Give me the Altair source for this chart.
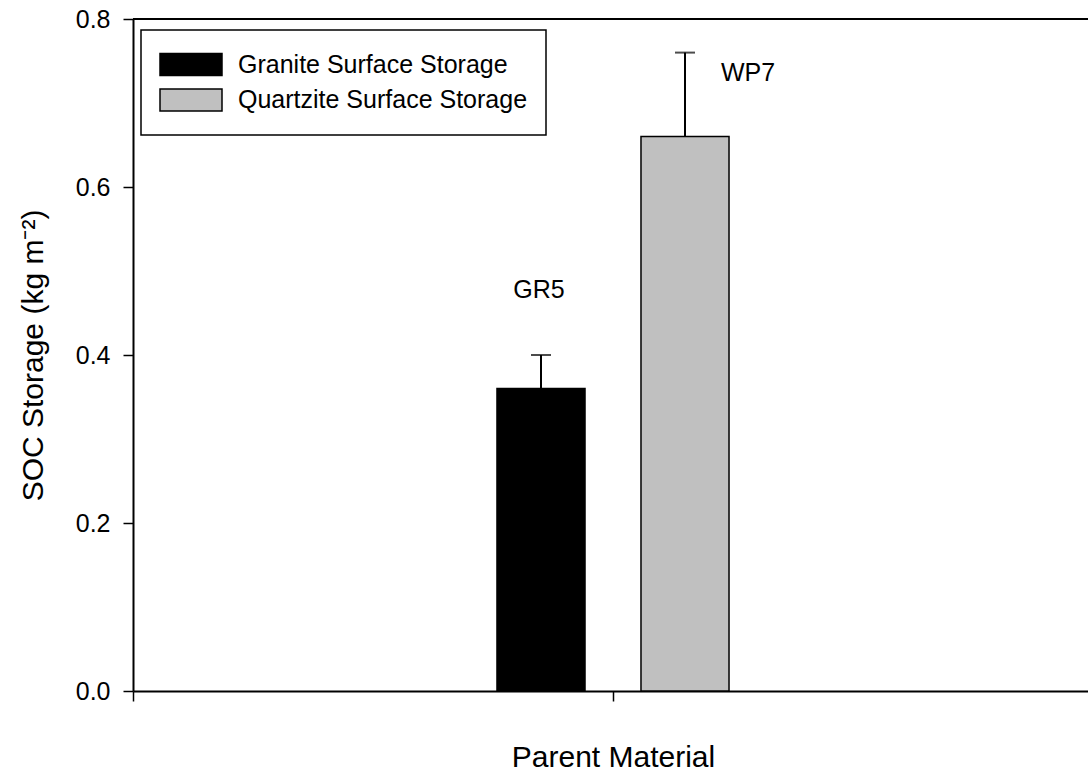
import altair as alt
import pandas as pd

# Surface SOC storage by parent material
series = ["Granite Surface Storage", "Quartzite Surface Storage"]
storage = [0.36, 0.66]          # kg m-2
std_err = [0.04, 0.10]          # upper error
site = ["GR5", "WP7"]
fills = ["#000000", "#c0c0c0"]
y_ticks = [0.0, 0.2, 0.4, 0.6, 0.8]

df = pd.DataFrame({"series": series, "storage": storage, "err": std_err, "site": site})

FONT = "Liberation Sans"
W, H = 955, 672

base = alt.Chart(df).transform_calculate(upper="datum.storage + datum.err")

x_enc = alt.X(
    "series:N",
    sort=series,
    scale=alt.Scale(range=[0, 960], paddingInner=0, paddingOuter=0),
    axis=alt.Axis(
        title="Parent Material",
        labels=False,
        tickBand="extent",
        tickSize=10,
        tickWidth=1.5,
        domainWidth=2,
        titleFontSize=30,
        titlePadding=41,
    ),
)
xoff = alt.XOffset(
    "series:N",
    scale=alt.Scale(domain=[series[1], series[0]], paddingInner=0.738, paddingOuter=0.0833),
)
y_axis = alt.Axis(
    title="SOC Storage (kg m⁻²)",
    values=y_ticks,
    format=".1f",
    grid=False,
    tickSize=10,
    tickWidth=1.5,
    domainWidth=2,
    labelPadding=13,
    labelFontSize=25,
    titleFontSize=30,
    titlePadding=27,
)
y_scale = alt.Scale(domain=[0, 0.8], nice=False)

bars = base.mark_bar(stroke="black", strokeWidth=1.5).encode(
    x=x_enc,
    xOffset=xoff,
    y=alt.Y("storage:Q", scale=y_scale, axis=y_axis),
    color=alt.Color(
        "series:N",
        scale=alt.Scale(domain=series, range=fills),
        legend=alt.Legend(
            title=None,
            orient="none",
            legendX=8,
            legendY=11,
            direction="vertical",
            fillColor="white",
            strokeColor="black",
            padding=18,
            clipHeight=33,
            rowPadding=2.5,
            symbolType="M-1,-0.355L1,-0.355L1,0.355L-1,0.355Z",
            symbolSize=3844,
            symbolStrokeColor="black",
            symbolStrokeWidth=1.5,
            symbolOpacity=1,
            labelOffset=15,
            labelFontSize=25,
            labelFont=FONT,
            labelColor="black",
            labelLimit=0,
        ),
    ),
)

err_line = base.mark_rule(color="black", strokeWidth=2).encode(
    x=x_enc,
    xOffset=xoff,
    y=alt.Y("storage:Q", scale=y_scale, axis=y_axis),
    y2="upper:Q",
)

err_cap = base.mark_tick(color="black", thickness=2, size=20, orient="horizontal").encode(
    x=x_enc,
    xOffset=xoff,
    y=alt.Y("upper:Q", scale=y_scale, axis=y_axis),
)

label_gr = base.transform_filter(alt.datum.series == series[0]).mark_text(
    font=FONT, fontSize=25, color="black", align="center", baseline="alphabetic", dx=-2, dy=-57
).encode(x=x_enc, xOffset=xoff, y=alt.Y("upper:Q", scale=y_scale, axis=y_axis), text="site:N")

label_wp = base.transform_filter(alt.datum.series == series[1]).mark_text(
    font=FONT, fontSize=25, color="black", align="left", baseline="alphabetic", dx=36, dy=28
).encode(x=x_enc, xOffset=xoff, y=alt.Y("upper:Q", scale=y_scale, axis=y_axis), text="site:N")

# top edge of the frame
top_edge = alt.Chart(pd.DataFrame({"k": [0]})).mark_rule(color="black", strokeWidth=2).encode(
    x=alt.value(0), x2=alt.value(W), y=alt.value(0)
)

chart = (
    alt.layer(bars, err_line, err_cap, label_gr, label_wp, top_edge)
    .properties(
        width=W,
        height=H,
        autosize=alt.AutoSizeParams(type="none"),
        padding={"left": 133, "top": 19, "right": 0, "bottom": 87},
    )
    .configure_view(stroke=None)
    .configure_axis(
        labelFont=FONT,
        titleFont=FONT,
        labelColor="black",
        titleColor="black",
        titleFontWeight="normal",
        domainColor="black",
        tickColor="black",
    )
    .configure_legend(strokeWidth=1.5)
)

chart.save("out.html", embed_options={"renderer": "svg", "actions": False})
